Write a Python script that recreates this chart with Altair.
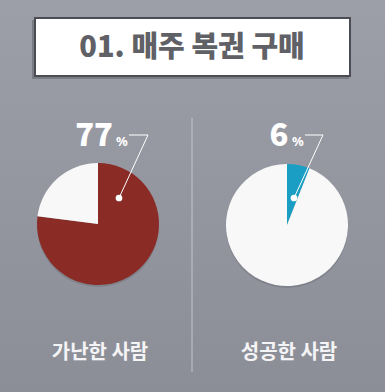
import altair as alt
import pandas as pd

# Chart content
title_text = "01. 매주 복권 구매"
groups = ["가난한 사람", "성공한 사람"]
shares = [77, 6]
slice_colors = ["#8a2b25", "#1a9ec4"]
rest_color = "#f8f8f8"

W, H = 385, 392
one = pd.DataFrame({"k": [0]})
FONT = "Noto Sans CJK KR"

layers = []

# background gradient
bg = alt.Chart(one).mark_rect(
    color=alt.Gradient(
        gradient="linear",
        stops=[alt.GradientStop(color="#9d9fa8", offset=0),
               alt.GradientStop(color="#8c8e97", offset=1)],
        x1=0, x2=0, y1=0, y2=1,
    )
).encode(x=alt.value(0), x2=alt.value(W), y=alt.value(0), y2=alt.value(H))
layers.append(bg)

# title box with a soft shadow
shadow = alt.Chart(one).mark_rect(color="#5a5c63", opacity=0.5).encode(
    x=alt.value(32), x2=alt.value(349), y=alt.value(20), y2=alt.value(79))
box = alt.Chart(one).mark_rect(fill="#ffffff", stroke="#4c4d52", strokeWidth=2).encode(
    x=alt.value(35), x2=alt.value(350), y=alt.value(18), y2=alt.value(76))
title = alt.Chart(one).mark_text(
    text=title_text, font=FONT, fontSize=29, fontWeight=900, color="#606166",
    align="center", baseline="middle").encode(x=alt.value(192), y=alt.value(48))
layers += [shadow, box, title]

# divider between the two groups
divider = alt.Chart(one).mark_rule(color="#c3c5cb", strokeWidth=1).encode(
    x=alt.value(192), y=alt.value(118), y2=alt.value(372))
layers.append(divider)

centers = [(98, 224), (287, 225)]
radius = 61
label_x = [(94, 114), (279, 290)]
dots = [(119, 198), (294, 198)]
leader_end = [(148, 135), (323, 135)]

for i, (grp, share, col) in enumerate(zip(groups, shares, slice_colors)):
    cx, cy = centers[i]
    df = pd.DataFrame({
        "part": ["share", "rest"],
        "value": [share, 100 - share],
        "order": [0, 1],
    })
    # drop shadow under the pie
    pie_shadow = alt.Chart(one).mark_arc(radius=radius, color="#6f717a", opacity=0.5).encode(
        theta=alt.value(6.2832), x=alt.value(cx), y=alt.value(cy + 2))
    pie = alt.Chart(df).mark_arc(radius=radius).encode(
        theta=alt.Theta("value:Q", stack=True, scale=alt.Scale(domain=[0, 100])),
        order=alt.Order("order:Q"),
        color=alt.Color("part:N", scale=alt.Scale(domain=["share", "rest"], range=[col, rest_color]),
                        legend=None),
        x=alt.value(cx), y=alt.value(cy),
    )
    lx_num, lx_pct = label_x[i]
    num = alt.Chart(one).mark_text(
        text=str(share), font=FONT, fontSize=31, fontWeight=900,
        color="#ffffff", align="center", baseline="alphabetic").encode(
        x=alt.value(lx_num), y=alt.value(146))
    pct = alt.Chart(one).mark_text(
        text="%", font="Noto Sans", fontSize=13, fontWeight="bold", color="#ffffff",
        align="left", baseline="alphabetic").encode(
        x=alt.value(lx_pct + 2), y=alt.value(146))
    ex, ey = leader_end[i]
    dx, dy = dots[i]
    seg1 = alt.Chart(one).mark_rule(color="#ffffff", strokeWidth=1).encode(
        x=alt.value(lx_pct + 15), x2=alt.value(ex), y=alt.value(ey), y2=alt.value(ey))
    seg2 = alt.Chart(one).mark_rule(color="#ffffff", strokeWidth=1).encode(
        x=alt.value(ex), x2=alt.value(dx), y=alt.value(ey), y2=alt.value(dy))
    dot = alt.Chart(one).mark_point(
        filled=True, color="#ffffff", size=45, opacity=1).encode(
        x=alt.value(dx), y=alt.value(dy))
    name = alt.Chart(one).mark_text(
        text=grp, font=FONT, fontSize=20, fontWeight="bold", color="#f4f4f6",
        align="center", baseline="middle").encode(
        x=alt.value(cx + 2), y=alt.value(353))
    layers += [pie_shadow, pie, seg1, seg2, dot, num, pct, name]

chart = alt.layer(*layers).resolve_scale(theta="independent", color="independent").properties(
    width=W, height=H, padding=0, autosize=alt.AutoSizeParams(type="none"),
).configure_view(stroke=None).configure(background="#9597a0")

chart.save("out.html", embed_options={"renderer": "svg", "actions": False})
